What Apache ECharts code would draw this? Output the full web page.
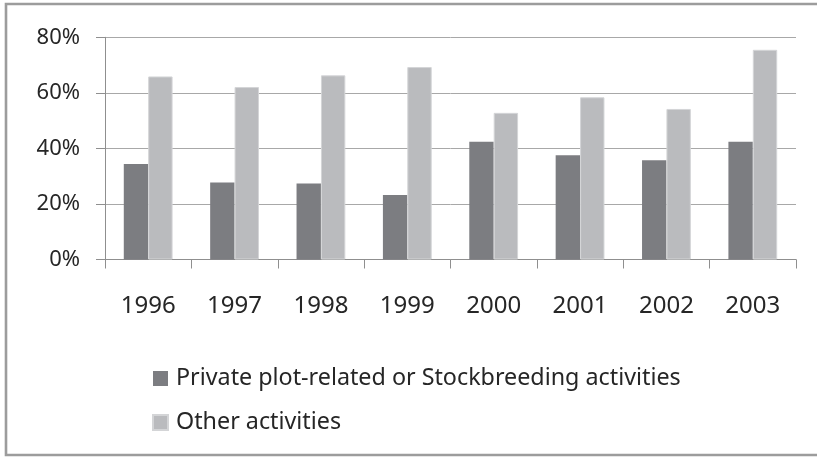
<!DOCTYPE html>
<html>
<head>
<meta charset="utf-8">
<script src="https://cdn.jsdelivr.net/npm/echarts@6/dist/echarts.min.js"></script>
<style>
html,body{margin:0;padding:0;background:#fff;}
#c{width:817px;height:457px;}
</style>
</head>
<body>
<div id="c"></div>
<script>
const years = ['1996','1997','1998','1999','2000','2001','2002','2003'];
const privatePlot = [34.4, 27.7, 27.4, 23.2, 42.4, 37.5, 35.7, 42.4];
const otherActs = [65.9, 62.1, 66.3, 69.3, 52.8, 58.4, 54.2, 75.5];
const yTicks = [0, 20, 40, 60, 80];
const seriesNames = ['Private plot-related or Stockbreeding activities', 'Other activities'];

const chart = echarts.init(document.getElementById('c'), null, {renderer: 'canvas'});
const font = 'Noto Sans';
chart.setOption({
  animation: false,
  backgroundColor: '#fff',
  graphic: [{
    type: 'rect',
    shape: {x: 6, y: 4, width: 830, height: 451},
    style: {fill: 'none', stroke: '#9c9c9c', lineWidth: 2.6},
    silent: true
  }],
  grid: {left: 105, right: 21, top: 37.3, bottom: 197.5, containLabel: false},
  legend: {
    orient: 'vertical',
    left: 147,
    top: 362,
    itemWidth: 15,
    itemHeight: 15,
    itemGap: 21,
    icon: 'rect',
    textStyle: {fontFamily: font, fontSize: 23.3, color: '#262626', padding: [5, 0, 0, 3]},
    data: seriesNames
  },
  xAxis: {
    type: 'category',
    data: years,
    axisLine: {lineStyle: {color: '#8f8f8f', width: 1}},
    axisTick: {show: true, length: 9, lineStyle: {color: '#8f8f8f'}},
    axisLabel: {fontFamily: font, fontSize: 24, color: '#262626', margin: 35}
  },
  yAxis: {
    type: 'value',
    min: yTicks[0],
    max: yTicks[yTicks.length - 1],
    interval: 20,
    axisLine: {show: true, lineStyle: {color: '#8f8f8f', width: 1}},
    axisTick: {show: true, length: 9, lineStyle: {color: '#8f8f8f'}},
    splitLine: {lineStyle: {color: '#a8a8a8', width: 1}},
    axisLabel: {fontFamily: font, fontSize: 22, color: '#262626', margin: 25, formatter: '{value}%'}
  },
  series: [
    {
      name: seriesNames[0], type: 'bar', data: privatePlot,
      barGap: '0%', barCategoryGap: '43.5%',
      itemStyle: {color: '#7c7d81'}
    },
    {
      name: seriesNames[1], type: 'bar', data: otherActs,
      barGap: '0%', barCategoryGap: '43.5%',
      itemStyle: {color: '#babbbe', borderColor: '#d4d5d7', borderWidth: 1}
    }
  ]
});
</script>
</body>
</html>
